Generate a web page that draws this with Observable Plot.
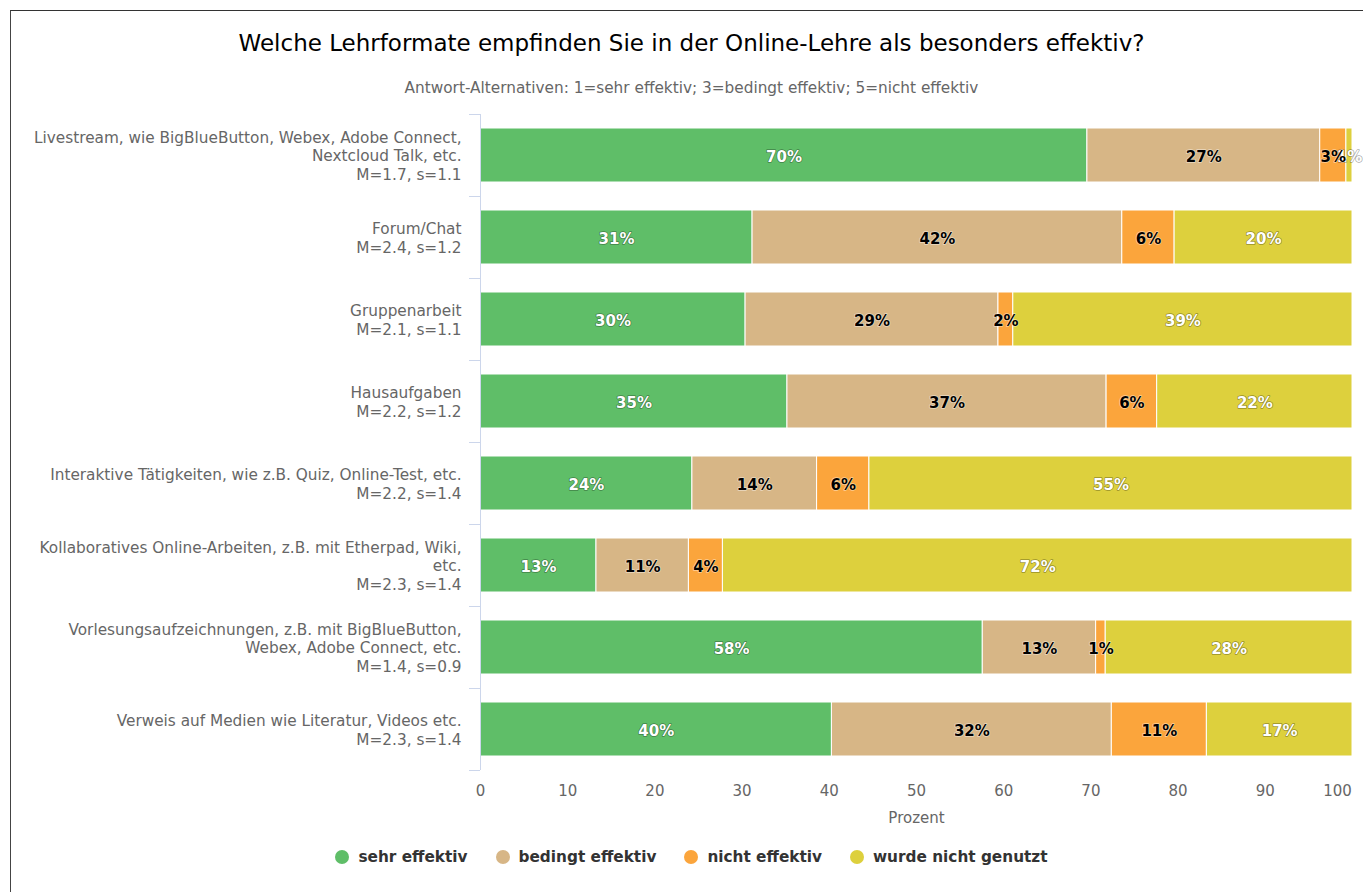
<!DOCTYPE html>
<html>
<head>
<meta charset="utf-8">
<script src="https://cdn.jsdelivr.net/npm/d3@7"></script>
<script src="https://cdn.jsdelivr.net/npm/@observablehq/plot@0.6"></script>
<style>
  html, body { margin: 0; padding: 0; background: #fff; }
  body { width: 1363px; height: 892px; overflow: hidden; position: relative; font-family: "DejaVu Sans", sans-serif; }
  #frame { position: absolute; left: 10px; top: 10px; width: 1400px; height: 1000px; border-left: 1px solid #444; border-top: 1px solid #333; box-sizing: border-box; }
  #title { position: absolute; left: 10px; width: 1363px; top: 29px; text-align: center; font-size: 23px; color: #000; line-height: 28px; }
  #subtitle { position: absolute; left: 10px; width: 1363px; top: 78px; text-align: center; font-size: 15.3px; color: #666; line-height: 20px; }
  #chart { position: absolute; left: 0; top: 100px; }
  #legend { position: absolute; left: 10px; width: 1363px; top: 847px; display: flex; justify-content: center; font-size: 15.3px; font-weight: bold; color: #333; line-height: 20px; }
  .item { display: flex; align-items: center; margin: 0 14px; }
  .dot { width: 14px; height: 14px; border-radius: 50%; margin-right: 9px; }
</style>
</head>
<body>
<div id="frame"></div>
<div id="title">Welche Lehrformate empfinden Sie in der Online-Lehre als besonders effektiv?</div>
<div id="subtitle">Antwort-Alternativen: 1=sehr effektiv; 3=bedingt effektiv; 5=nicht effektiv</div>
<div id="chart"></div>
<div id="legend"></div>
<script>
const categories = [
  "Livestream, wie BigBlueButton, Webex, Adobe Connect,\nNextcloud Talk, etc.",
  "Forum/Chat",
  "Gruppenarbeit",
  "Hausaufgaben",
  "Interaktive Tätigkeiten, wie z.B. Quiz, Online-Test, etc.",
  "Kollaboratives Online-Arbeiten, z.B. mit Etherpad, Wiki,\netc.",
  "Vorlesungsaufzeichnungen, z.B. mit BigBlueButton,\nWebex, Adobe Connect, etc.",
  "Verweis auf Medien wie Literatur, Videos etc."
];
const means = [1.7, 2.4, 2.1, 2.2, 2.2, 2.3, 1.4, 2.3];
const sds   = [1.1, 1.2, 1.1, 1.2, 1.4, 1.4, 0.9, 1.4];

const series = ["sehr effektiv", "bedingt effektiv", "nicht effektiv", "wurde nicht genutzt"];
const colors = ["#5fbe68", "#d7b686", "#fba53c", "#ddd03d"];
const lightLabelSeries = ["sehr effektiv", "wurde nicht genutzt"];

const sehrEffektiv    = [69.6, 31.2, 30.4, 35.2, 24.3, 13.3, 57.6, 40.3];
const bedingtEffektiv = [26.7, 42.4, 29.0, 36.6, 14.3, 10.6, 13.0, 32.1];
const nichtEffektiv   = [ 3.0,  6.0,  1.7,  5.8,  6.0,  3.9,  1.1, 10.9];
const nichtGenutzt    = [ 0.7, 20.4, 38.9, 22.4, 55.4, 72.2, 28.3, 16.7];

const xTicks = [0, 10, 20, 30, 40, 50, 60, 70, 80, 90, 100];
const xLabel = "Prozent";

const valuesBySeries = [sehrEffektiv, bedingtEffektiv, nichtEffektiv, nichtGenutzt];
const rows = [];
categories.forEach((cat, i) => {
  series.forEach((s, j) => rows.push({cat, series: s, value: valuesBySeries[j][i]}));
});
const labelOf = new Map(categories.map((c, i) => [c, `${c}\nM=${means[i].toFixed(1)}, s=${sds[i].toFixed(1)}`]));

// band boundary ticks on the category axis (drawn from the y scale)
function bandBoundaryTicks(index, scales, values, dimensions) {
  const y = scales.y;
  const bw = y.bandwidth ? y.bandwidth() : 0;
  const step = y(categories[1]) - y(categories[0]);
  const half = (step - bw) / 2;
  const x0 = dimensions.marginLeft;
  const ys = categories.map(c => y(c) - half);
  ys.push(y(categories[categories.length - 1]) + bw + half);
  const g = d3.create("svg:g");
  g.selectAll("line").data(ys).join("line")
    .attr("x1", x0 - 11).attr("x2", x0)
    .attr("y1", d => Math.round(d) + 0.5).attr("y2", d => Math.round(d) + 0.5)
    .attr("stroke", "#ccd6eb").attr("stroke-width", 1);
  g.append("line")
    .attr("x1", x0 + 0.5).attr("x2", x0 + 0.5)
    .attr("y1", ys[0]).attr("y2", ys[ys.length - 1])
    .attr("stroke", "#ccd6eb").attr("stroke-width", 1);
  return g.node();
}

const fmt = d => Math.round(d.value) + "%";

const chart = Plot.plot({
  width: 1363,
  height: 740,
  marginLeft: 480,
  marginRight: 11,
  marginTop: 13,
  marginBottom: 68,
  style: {fontFamily: "DejaVu Sans, sans-serif", background: "transparent", overflow: "visible"},
  x: {domain: [0, 100], axis: null},
  y: {domain: categories, paddingInner: 0.34, paddingOuter: 0.17, axis: null},
  color: {domain: series, range: colors},
  marks: [
    Plot.barX(rows, Plot.stackX({x: "value", y: "cat", fill: "series", stroke: "white", strokeWidth: 1})),
    bandBoundaryTicks,
    Plot.text(rows, Plot.stackX({
      x: "value", y: "cat", z: "series", dy: 2,
      text: d => lightLabelSeries.includes(d.series) ? fmt(d) : "",
      fill: "white", stroke: "#000", strokeWidth: 1.5, strokeOpacity: 0.35, paintOrder: "stroke",
      fontSize: 15, fontWeight: "bold"
    })),
    Plot.text(rows, Plot.stackX({
      x: "value", y: "cat", z: "series", dy: 2,
      text: d => lightLabelSeries.includes(d.series) ? "" : fmt(d),
      fill: "#000", stroke: "#fff", strokeWidth: 1.5, strokeOpacity: 0.5, paintOrder: "stroke",
      fontSize: 15, fontWeight: "bold"
    })),
    Plot.axisY({
      tickSize: 0, tickPadding: 19, fontSize: 15.3, color: "#666", lineHeight: 1.22,
      tickFormat: d => labelOf.get(d), label: null
    }),
    Plot.axisX({
      ticks: xTicks.slice(0, -1), tickSize: 0, tickPadding: 13, fontSize: 15, color: "#666", label: null
    }),
    Plot.axisX({
      ticks: xTicks.slice(-1), tickSize: 0, tickPadding: 13, fontSize: 15, color: "#666", label: null, dx: -15
    }),
    Plot.text([xLabel], {frameAnchor: "bottom", dy: 50, fontSize: 15, fill: "#666", text: d => d})
  ]
});
document.getElementById("chart").appendChild(chart);

const legend = d3.select("#legend");
series.forEach((s, i) => {
  const item = legend.append("div").attr("class", "item");
  item.append("div").attr("class", "dot").style("background", colors[i]);
  item.append("span").text(s);
});
</script>
</body>
</html>
